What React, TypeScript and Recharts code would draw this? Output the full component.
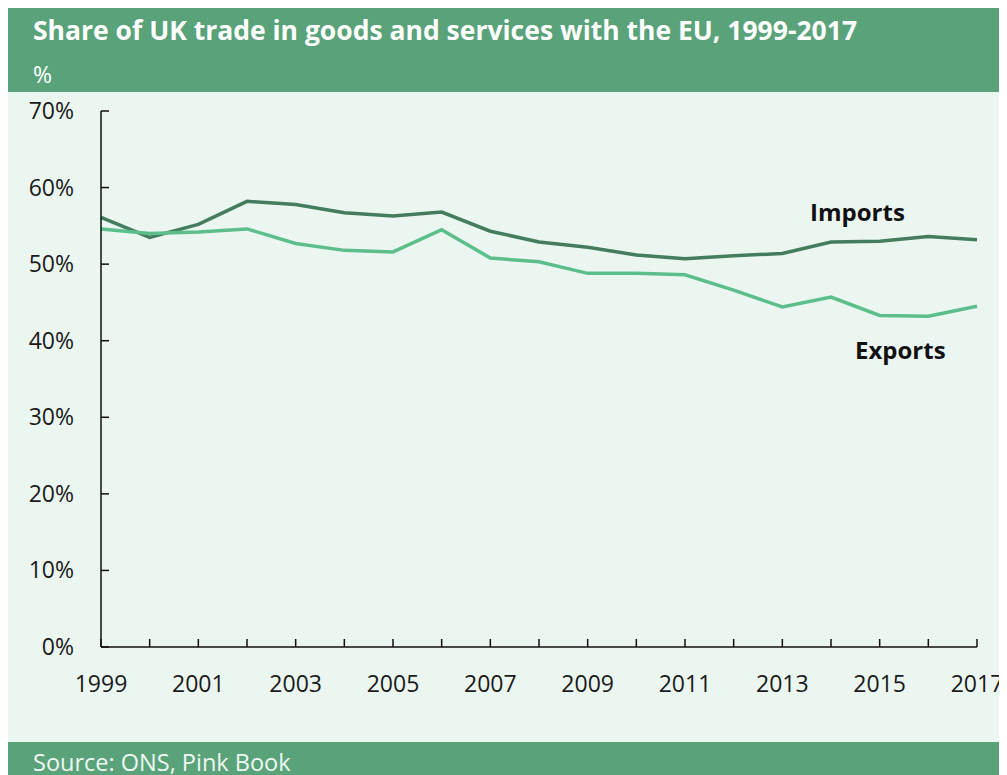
import React from "react"
import { LineChart, Line, XAxis, YAxis } from "recharts"

const years = [1999, 2000, 2001, 2002, 2003, 2004, 2005, 2006, 2007, 2008, 2009, 2010, 2011, 2012, 2013, 2014, 2015, 2016, 2017]
const imports = [56.1, 53.5, 55.2, 58.2, 57.8, 56.7, 56.3, 56.8, 54.3, 52.9, 52.2, 51.2, 50.7, 51.1, 51.4, 52.9, 53.0, 53.6, 53.2]
const exports = [54.6, 54.0, 54.2, 54.6, 52.7, 51.8, 51.6, 54.5, 50.8, 50.3, 48.8, 48.8, 48.6, 46.6, 44.4, 45.7, 43.3, 43.2, 44.5]
const yTicks = [0, 10, 20, 30, 40, 50, 60, 70]

const data = years.map((year, i) => ({ year, imports: imports[i], exports: exports[i] }))

const font = "'Open Sans', 'Noto Sans', sans-serif"
const headerGreen = "#5aa37a"
const panel = "#ecf6f0"

const XTick = ({ x, y, payload }: any) => {
  const yr = payload.value
  return (
    <g>
      <line x1={x} x2={x} y1={y} y2={y - 8} stroke="#111" strokeWidth={1.5} />
      {yr % 2 === 1 && (
        <text x={x} y={y + 45} textAnchor="middle" fontSize={23} fill="#1a1a1a" fontFamily={font}>
          {yr}
        </text>
      )}
    </g>
  )
}

const YTick = ({ x, y, payload }: any) => (
  <g>
    <line x1={x} x2={x + 8} y1={y} y2={y} stroke="#111" strokeWidth={1.5} />
    <text x={x - 27} y={y} dy="0.35em" textAnchor="end" fontSize={23} fill="#1a1a1a" fontFamily={font}>
      {payload.value}%
    </text>
  </g>
)

export default function App() {
  return (
    <div style={{ width: 999, fontFamily: font, position: "relative" }}>
      <div style={{ background: headerGreen, height: 84, color: "#fff", position: "relative" }}>
        <div style={{ position: "absolute", left: 25, top: 4, fontSize: 26.5, fontWeight: 700, whiteSpace: "nowrap" }}>
          Share of UK trade in goods and services with the EU, 1999-2017
        </div>
        <div style={{ position: "absolute", left: 25, top: 50, fontSize: 23 }}>%</div>
      </div>
      <div style={{ background: panel, height: 650, position: "relative" }}>
        <LineChart width={999} height={650} data={data} margin={{ top: 19, right: 30, left: 0, bottom: 0 }}>
          <XAxis
            dataKey="year"
            type="number"
            domain={[1999, 2017]}
            ticks={years}
            interval={0}
            height={95}
            tickSize={0}
            tickMargin={0}
            tickLine={false}
            axisLine={{ stroke: "#111", strokeWidth: 1.5 }}
            tick={<XTick />}
          />
          <YAxis
            domain={[0, 70]}
            ticks={yTicks}
            interval={0}
            width={93}
            tickSize={0}
            tickMargin={0}
            tickLine={false}
            axisLine={{ stroke: "#111", strokeWidth: 1.5 }}
            tick={<YTick />}
          />
          <Line dataKey="imports" stroke="#447d5d" strokeWidth={3.5} dot={false} isAnimationActive={false} />
          <Line dataKey="exports" stroke="#5cbf8b" strokeWidth={3.5} dot={false} isAnimationActive={false} />
        </LineChart>
        <div style={{ position: "absolute", left: 802, top: 103, fontSize: 24, fontWeight: 700, color: "#111" }}>Imports</div>
        <div style={{ position: "absolute", left: 847, top: 241, fontSize: 24, fontWeight: 700, color: "#111" }}>Exports</div>
      </div>
      <div style={{ background: headerGreen, height: 40, color: "#eef7f1", position: "relative" }}>
        <div style={{ position: "absolute", left: 25, top: 4, fontSize: 23.5, whiteSpace: "nowrap" }}>Source: ONS, Pink Book</div>
      </div>
    </div>
  )
}
